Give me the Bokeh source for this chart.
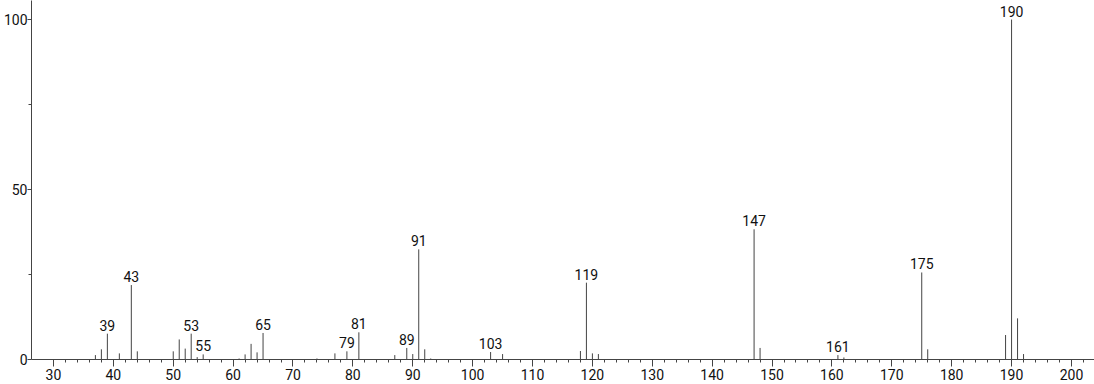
from bokeh.plotting import figure
from bokeh.models import FixedTicker, Range1d, ColumnDataSource
from bokeh.core.properties import value
from bokeh.embed import file_html
from bokeh.resources import INLINE

# m/z values and relative intensities
mz = [37, 38, 39, 41, 43, 44, 50, 51, 52, 53, 54, 55, 61, 62, 63, 64, 65,
      74, 77, 79, 81, 87, 89, 90, 91, 92, 93, 103, 105, 118, 119, 120, 121,
      147, 148, 161, 162, 175, 176, 189, 190, 191, 192]
intensity = [1.3, 3.0, 7.6, 1.8, 21.9, 2.4, 2.4, 5.9, 3.2, 7.6, 0.7, 1.5, 0.3, 1.5, 4.6, 2.1, 7.8,
             0.3, 1.8, 2.4, 8.0, 1.3, 3.4, 1.6, 32.4, 3.0, 0.3, 2.2, 1.6, 2.5, 22.6, 1.8, 1.6,
             38.3, 3.4, 1.3, 0.6, 25.6, 3.0, 7.2, 100.0, 12.1, 1.6]
labeled = [39, 43, 53, 55, 65, 79, 81, 89, 91, 103, 119, 147, 161, 175, 190]

x_major = list(range(30, 201, 10))
x_minor = list(range(30, 203, 2))
y_major = [0, 50, 100]
y_minor = [25, 75]

FONT = "Roboto"

p = figure(width=1094, height=384, output_backend="svg", toolbar_location=None,
           x_range=Range1d(26.33, 203.85), y_range=Range1d(0, 105.6),
           min_border_left=31, min_border_right=0, min_border_top=0, min_border_bottom=25)
p.outline_line_color = None
p.xgrid.visible = False
p.ygrid.visible = False
p.background_fill_color = "white"
p.border_fill_color = "white"

src = ColumnDataSource(dict(x=mz, y0=[0] * len(mz), y1=intensity))
p.segment(x0="x", y0="y0", x1="x", y1="y1", source=src, line_color="#444444", line_width=1)

lab_y = [intensity[mz.index(m)] for m in labeled]
lsrc = ColumnDataSource(dict(x=labeled, y=lab_y, t=[str(m) for m in labeled]))
p.text(x="x", y="y", text="t", source=lsrc, text_align="center", text_baseline="bottom",
       y_offset=-3, text_font=value(FONT), text_font_size="14px", text_color="#111111")

for ax in (p.xaxis[0], p.yaxis[0]):
    ax.axis_line_color = "#444444"
    ax.major_tick_line_color = "#444444"
    ax.minor_tick_line_color = "#444444"
    ax.major_label_text_font = FONT
    ax.major_label_text_font_size = "14px"
    ax.major_label_text_color = "#111111"
    ax.major_tick_in = 0
    ax.minor_tick_in = 0

p.xaxis.ticker = FixedTicker(ticks=x_major, minor_ticks=x_minor)
p.xaxis.major_tick_out = 7
p.xaxis.minor_tick_out = 3
p.xaxis.major_label_standoff = 2

p.yaxis.ticker = FixedTicker(ticks=y_major, minor_ticks=y_minor)
p.yaxis.major_tick_out = 4
p.yaxis.minor_tick_out = 3
p.yaxis.major_label_standoff = 0

open("out.html", "w").write(file_html(p, INLINE))
